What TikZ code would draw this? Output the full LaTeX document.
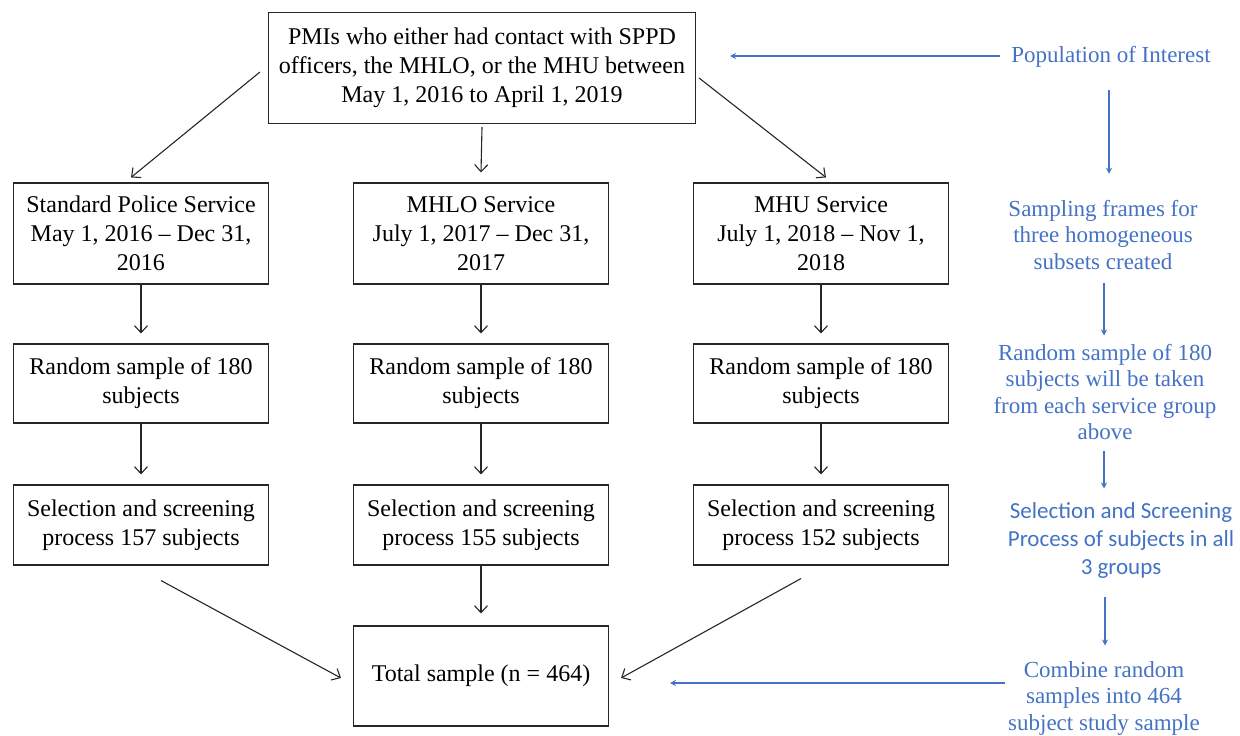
\documentclass[tikz,border=0pt]{standalone}
\usepackage{fontspec}
\setmainfont{Liberation Serif}[Ligatures=TeX]
\newfontfamily\calibrifont{Carlito}
\usetikzlibrary{arrows.meta,calc}
\definecolor{wordblue}{HTML}{4472C4}
\tikzset{
  box/.style={draw=black!85, line width=1.1pt, align=center, inner sep=2pt,
    font=\rmfamily\fontsize{24}{29}\selectfont},
  arr/.style={draw=black!85, line width=1.1pt, -{Straight Barb[length=7pt,width=13pt,line width=1.1pt]}},
  barr/.style={draw=wordblue, line width=1.1pt, -{Stealth[length=6pt,width=6pt]}},
  btext/.style={align=center, font=\rmfamily\fontsize{23}{26.5}\selectfont\color{wordblue}},
}
\begin{document}
\begin{tikzpicture}[x=1pt,y=-1pt]
\useasboundingbox (0,0) rectangle (1240,736);
% black boxes
\node[box, minimum width=427pt, minimum height=111pt] (top) at (482,68) {PMIs who either had contact with SPPD\\officers, the MHLO, or the MHU between\\May 1, 2016 to April 1, 2019};
\node[box, minimum width=255pt, minimum height=101pt] (sps) at (141,233.5) {Standard Police Service\\May 1, 2016 – Dec 31,\\2016};
\node[box, minimum width=255pt, minimum height=101pt] (mhlo) at (481,233.5) {MHLO Service\\July 1, 2017 – Dec 31,\\2017};
\node[box, minimum width=255pt, minimum height=101pt] (mhu) at (821,233.5) {MHU Service\\July 1, 2018 – Nov 1,\\2018};
\node[box, minimum width=255pt, minimum height=79pt] (r1) at (141,383.5) {Random sample of 180\\subjects};
\node[box, minimum width=255pt, minimum height=79pt] (r2) at (481,383.5) {Random sample of 180\\subjects};
\node[box, minimum width=255pt, minimum height=79pt] (r3) at (821,383.5) {Random sample of 180\\subjects};
\node[box, minimum width=255pt, minimum height=80pt] (s1) at (141,525) {Selection and screening\\process 157 subjects};
\node[box, minimum width=255pt, minimum height=80pt] (s2) at (481,525) {Selection and screening\\process 155 subjects};
\node[box, minimum width=255pt, minimum height=80pt] (s3) at (821,525) {Selection and screening\\process 152 subjects};
\node[box, minimum width=255pt, minimum height=100pt] (tot) at (481,676) {Total sample (n = 464)};
% black connectors
\draw[arr] ([xshift=-8pt,yshift=-4pt]top.west) -- ([xshift=-10pt,yshift=5pt]sps.north);
\draw[arr] ([yshift=-3pt]top.south) -- ([yshift=10pt]mhlo.north);
\draw[arr] ([xshift=3pt,yshift=-10pt]top.east) -- ([xshift=5pt,yshift=5pt]mhu.north);
\foreach \a/\b in {sps/r1,mhlo/r2,mhu/r3,r1/s1,r2/s2,r3/s3}{
  \draw[arr] (\a.south) -- ([yshift=10pt]\b.north);
}
\draw[arr] (s2.south) -- ([yshift=12pt]tot.north);
\draw[arr] ([xshift=20pt,yshift=-15pt]s1.south) -- ([xshift=-12pt,yshift=-2pt]tot.west);
\draw[arr] ([xshift=-20pt,yshift=-13pt]s3.south) -- ([xshift=12pt,yshift=-2pt]tot.east);
% blue annotations
\node[btext] (pop) at (1111,57) {Population of Interest};
\node[btext] (frames) at (1103,235) {Sampling frames for\\three homogeneous\\subsets created};
\node[btext] (rand) at (1105,392) {Random sample of 180\\subjects will be taken\\from each service group\\above};
\node[btext, font=\calibrifont\fontsize{23}{28}\selectfont\color{wordblue}] (sel) at (1121,540) {Selection and Screening\\Process of subjects in all\\3 groups};
\node[btext] (comb) at (1104,698) {Combine random\\samples into 464\\subject study sample};
\coordinate (popend) at (730,56);
\coordinate (combend) at (670,683);
\coordinate (bxa) at (1109,0);
\coordinate (bxb) at (1104,0);
\coordinate (bxc) at (1105,0);
\draw[barr] (1000,56) -- (popend);
\draw[barr] (1005,683) -- (combend);
\draw[barr] ($(pop.south -| bxa)+(0,19)$) -- ($(frames.north -| bxa)+(0,-23)$);
\draw[barr] ($(frames.south -| bxb)+(0,10)$) -- ($(rand.north -| bxb)+(0,-5)$);
\draw[barr] ($(rand.south -| bxb)+(0,8)$) -- ($(sel.north -| bxb)+(0,-10)$);
\draw[barr] ($(sel.south -| bxc)+(0,15)$) -- ($(comb.north -| bxc)+(0,-12)$);
\end{tikzpicture}
\end{document}
